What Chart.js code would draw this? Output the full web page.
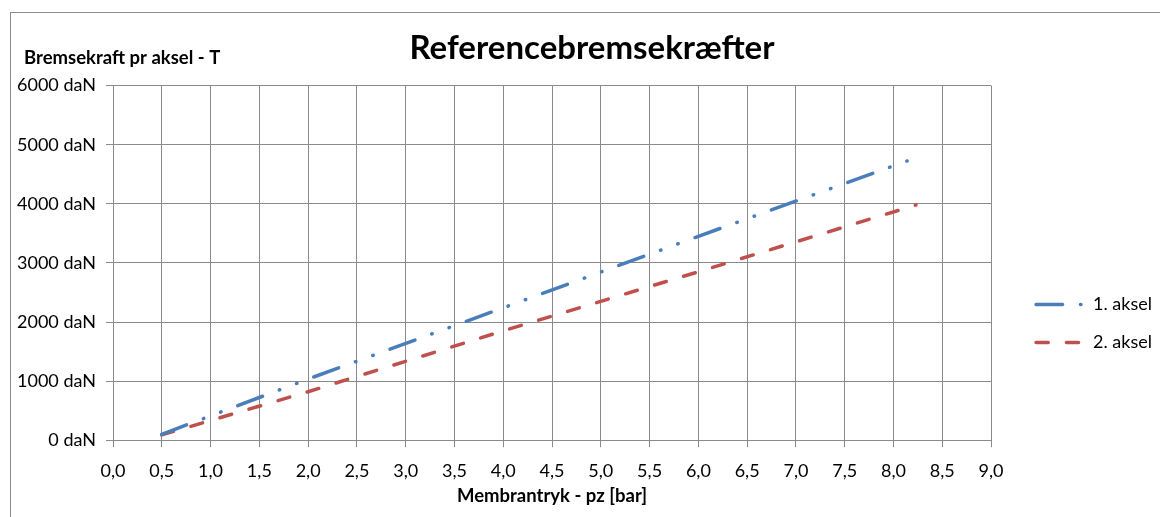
<!DOCTYPE html>
<html>
<head>
<meta charset="utf-8">
<script src="https://cdn.jsdelivr.net/npm/chart.js@4.4.0/dist/chart.umd.min.js"></script>
<style>
  html, body { margin: 0; padding: 0; background: #fff; overflow: hidden; }
  #frame { position: absolute; left: 10px; top: 12px; width: 1300px; height: 700px;
           border-left: 1px solid #8c8c8c; border-top: 1px solid #8c8c8c; }
  #c { position: absolute; left: 11px; top: 13px; }
</style>
</head>
<body>
<div id="frame"></div>
<canvas id="c" width="1149" height="504"></canvas>
<script>
// ---- data ----
const chartTitle = "Referencebremsekræfter";
const yAxisTitle = "Bremsekraft pr aksel - T";
const xAxisTitle = "Membrantryk - pz [bar]";
const seriesNames = ["1. aksel", "2. aksel"];
const pz1 = [0.5, 2.0, 4.0, 6.0, 8.14];
const force1 = [100, 1035, 2240, 3450, 4725];
const pz2 = [0.5, 2.0, 4.0, 6.0, 8.23];
const force2 = [90, 820, 1850, 2850, 3980];
const xMin = 0, xMax = 9, xStep = 0.5;
const yMin = 0, yMax = 6000, yStep = 1000;

const FONT = "Lato, 'Open Sans', sans-serif";
const GRID = "#8a8a8a";

const layoutTweaks = {
  id: "layoutTweaks",
  afterLayout(chart) {
    const lg = chart.legend;
    if (lg) {
      lg.left += 25; lg.right += 25;
      lg.top += 61; lg.bottom += 61;
    }
    const t = chart.titleBlock;
    if (t) { t.left += 18; t.right += 18; }
  },
  afterDraw(chart) {
    const ctx = chart.ctx;
    ctx.save();
    ctx.font = "bold 18.5px " + FONT;
    ctx.fillStyle = "#000";
    ctx.textBaseline = "middle";
    ctx.textAlign = "left";
    ctx.fillText(yAxisTitle, 13, 45);
    ctx.restore();
  }
};

new Chart(document.getElementById("c"), {
  type: "scatter",
  data: {
    datasets: [
      {
        label: seriesNames[0],
        data: pz1.map((x, i) => ({ x, y: force1[i] })),
        showLine: true,
        borderColor: "#4a7ebb",
        backgroundColor: "#4a7ebb",
        borderWidth: 3.5,
        borderDash: [26.5, 17.9, 0.5, 17.9, 0.5, 17.9],
        borderCapStyle: "round",
        pointRadius: 0,
        pointHoverRadius: 0,
        pointStyle: "line"
      },
      {
        label: seriesNames[1],
        data: pz2.map((x, i) => ({ x, y: force2[i] })),
        showLine: true,
        borderColor: "#c0504d",
        backgroundColor: "#c0504d",
        borderWidth: 3.5,
        borderDash: [12.2, 18.1],
        borderCapStyle: "round",
        pointRadius: 0,
        pointHoverRadius: 0,
        pointStyle: "line"
      }
    ]
  },
  options: {
    responsive: false,
    animation: false,
    devicePixelRatio: 1,
    layout: { padding: { left: 0, right: 23, top: 0, bottom: 5 } },
    plugins: {
      tooltip: { enabled: false },
      title: {
        display: true,
        text: chartTitle,
        color: "#000",
        font: { family: FONT, size: 33, weight: "bold" },
        padding: { top: 16, bottom: 17 }
      },
      legend: {
        position: "right",
        labels: {
          usePointStyle: true,
          pointStyleWidth: 48,
          boxHeight: 4,
          color: "#000",
          font: { family: FONT, size: 18 },
          padding: 20,
          generateLabels: chart =>
            Chart.defaults.plugins.legend.labels.generateLabels(chart).map((l, i) => ({
              ...l,
              lineDash: chart.data.datasets[i].borderDash,
              lineCap: "round",
              lineWidth: 3.5,
              strokeStyle: chart.data.datasets[i].borderColor
            }))
        }
      }
    },
    scales: {
      x: {
        type: "linear",
        min: xMin, max: xMax,
        ticks: {
          stepSize: xStep,
          color: "#000",
          font: { family: FONT, size: 18 },
          padding: 13,
          maxRotation: 0,
          callback: v => v.toFixed(1).replace(".", ",")
        },
        grid: { color: GRID, lineWidth: 1, tickLength: 7, drawTicks: true },
        border: { color: GRID, width: 1 },
        title: {
          display: true,
          text: xAxisTitle,
          color: "#000",
          font: { family: FONT, size: 18.5, weight: "bold" },
          padding: { top: -10, bottom: 5 }
        }
      },
      y: {
        type: "linear",
        min: yMin, max: yMax,
        ticks: {
          stepSize: yStep,
          color: "#000",
          font: { family: FONT, size: 18 },
          padding: 10,
          callback: v => v + " daN"
        },
        grid: { color: GRID, lineWidth: 1, tickLength: 7 },
        border: { color: GRID, width: 1 },
        afterFit: s => { s.width = 102; }
      }
    }
  },
  plugins: [layoutTweaks]
});
</script>
</body>
</html>
